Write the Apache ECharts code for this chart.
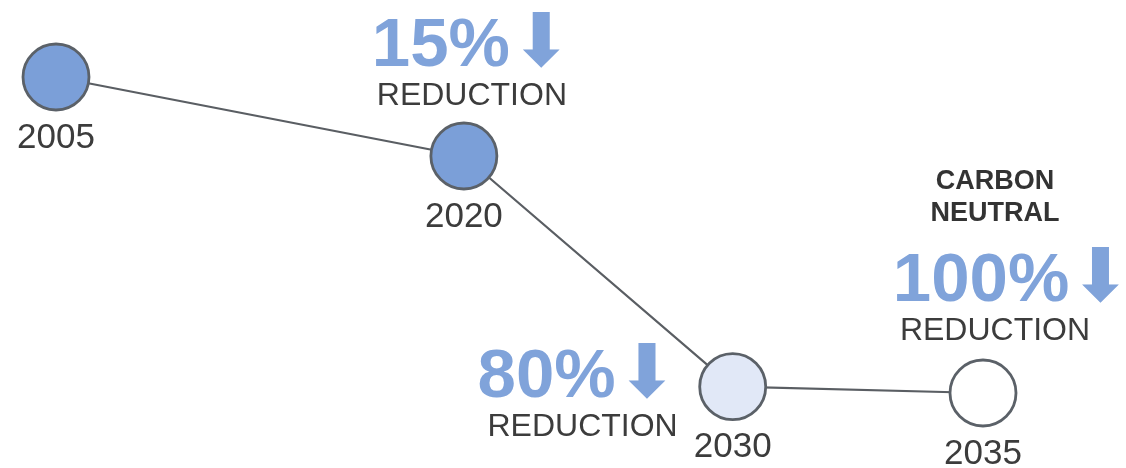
<!DOCTYPE html>
<html><head><meta charset="utf-8">
<script src="https://cdn.jsdelivr.net/npm/echarts@6/dist/echarts.min.js"></script>
<style>html,body{margin:0;padding:0;background:#fff}#c{width:1126px;height:468px}</style>
</head><body><div id="c"></div>
<script>
var years = ['2005', '2020', '2030', '2035'];
var timelinePos = [0, 44, 73, 100];
var emissionLevel = [100, 75, 2, 0];
var reductionPct = [null, 15, 80, 100];
var fills = ['#7b9fd8', '#7b9fd8', '#e1e8f7', '#ffffff'];

var FONT = '"Liberation Sans", Arial, sans-serif';
var rich = {
  big: {fontSize: 69, fontWeight: 'bold', color: '#80a3da', fontFamily: FONT, lineHeight: 64},
  arr: {fontSize: 74, color: '#80a3da', fontFamily: '"DejaVu Sans"', lineHeight: 64},
  red: {fontSize: 32, color: '#3c3c3c', fontFamily: FONT, lineHeight: 34},
  redR: {fontSize: 32, color: '#3c3c3c', fontFamily: FONT, lineHeight: 34, padding: [0, 34, 0, 0]},
  cn: {fontSize: 27, fontWeight: 'bold', color: '#333333', fontFamily: FONT, lineHeight: 32, padding: [0, 34, 0, 0]},
  gap: {fontSize: 8, lineHeight: 20}
};

var yearData = years.map(function (y, i) {
  return {value: [timelinePos[i], emissionLevel[i]], name: y, itemStyle: {color: fills[i]}};
});

var redLabelCfg = [
  null,
  {position: 'top', distance: 10, offset: [8, 0], align: 'center'},
  {position: 'left', distance: 22, offset: [0, 8], align: 'right'},
  {position: 'top', distance: 12, offset: [29, 0], align: 'center'}
];
var redData = years.map(function (y, i) {
  var txt = '';
  if (reductionPct[i] != null) {
    if (reductionPct[i] === 100) {
      txt = '{cn|CARBON}\n{cn|NEUTRAL}\n{gap| }\n{big|' + reductionPct[i] + '%}{arr|⬇}\n{redR|REDUCTION}';
    } else {
      txt = '{big|' + reductionPct[i] + '%}{arr|⬇}\n{red|REDUCTION}';
    }
  }
  var cfg = redLabelCfg[i] || {};
  return {
    value: [timelinePos[i], emissionLevel[i]],
    label: Object.assign({show: txt !== '', formatter: txt, rich: rich}, cfg)
  };
});

var chart = echarts.init(document.getElementById('c'));
chart.setOption({
  animation: false,
  grid: {left: 56, right: 143, top: 77, bottom: 75},
  xAxis: {type: 'value', min: 0, max: 100, show: false},
  yAxis: {type: 'value', min: 0, max: 100, show: false},
  series: [
    {
      type: 'line',
      data: yearData,
      symbol: 'circle',
      symbolSize: 66,
      clip: false,
      lineStyle: {color: '#5a5e63', width: 2.2},
      itemStyle: {borderColor: '#5b6168', borderWidth: 2.8, opacity: 1},
      label: {
        show: true, position: 'bottom', distance: 9,
        formatter: function (p) { return p.name; },
        fontSize: 35, color: '#3c3c3c', fontFamily: FONT
      },
      z: 2
    },
    {
      type: 'scatter',
      data: redData,
      symbolSize: 66,
      itemStyle: {color: 'rgba(0,0,0,0)', opacity: 1},
      clip: false,
      silent: true,
      z: 3
    }
  ]
});
</script></body></html>
